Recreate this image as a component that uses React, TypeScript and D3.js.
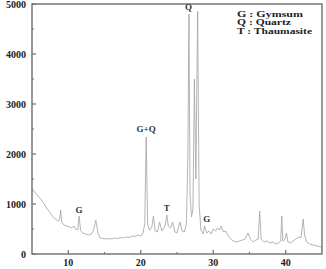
import React from "react";
import * as d3 from "d3";

const twoTheta = [5.0,5.3,5.6,6.0,6.3,6.7,7.0,7.4,7.8,8.2,8.6,8.8,8.95,9.1,9.4,9.8,10.2,10.5,10.8,11.0,11.3,11.5,11.7,12.0,12.4,12.8,13.2,13.5,13.8,14.1,14.4,14.8,15.2,15.6,16.0,16.4,16.8,17.2,17.6,18.0,18.4,18.8,19.2,19.6,20.0,20.3,20.55,20.75,20.95,21.2,21.5,21.75,22.0,22.3,22.6,22.9,23.2,23.4,23.6,23.8,24.1,24.4,24.7,25.0,25.4,25.7,26.0,26.3,26.5,26.65,26.8,27.0,27.2,27.4,27.6,27.85,28.05,28.3,28.6,28.8,29.1,29.4,29.7,30.0,30.3,30.6,30.9,31.1,31.4,31.7,32.0,32.4,32.8,33.2,33.6,34.0,34.4,34.8,35.1,35.5,35.9,36.2,36.4,36.6,37.0,37.4,37.8,38.2,38.6,39.0,39.3,39.45,39.6,39.9,40.1,40.3,40.7,41.0,41.4,41.8,42.1,42.4,42.6,42.9,43.3,43.8,44.3,44.7,45.0];
const intensity = [1320,1250,1200,1130,1080,1000,920,850,760,700,660,680,880,640,580,560,540,520,560,500,480,760,470,420,400,380,400,480,680,420,320,310,300,310,300,320,310,330,320,340,330,360,350,380,360,420,600,2340,600,480,520,760,460,440,640,460,520,600,780,560,520,640,440,420,640,460,440,600,2000,4800,1200,740,900,3500,1500,4850,1000,480,400,560,420,460,400,500,460,520,480,560,440,460,380,300,260,240,260,280,300,420,300,240,280,300,860,300,240,260,220,240,200,220,260,760,260,300,420,240,220,260,300,340,320,700,380,240,200,180,160,150,140];

const xTicks = [10, 20, 30, 40];
const xMinor = [15, 25, 35];
const yTicks = [0, 1000, 2000, 3000, 4000, 5000];
const yMinor = [500, 1500, 2500, 3500, 4500];

const peakLabels = ["G", "G+Q", "Q", "T", "G"];
const peakAt = [11.5, 20.75, 26.6, 23.6, 29.1];
const peakLabelI = [820, 2450, 4890, 860, 640];

const legendLines = ["G : Gymsum", "Q : Quartz", "T : Thaumasite"];
const legendWidths = [66, 54, 75];

export default function App() {
  const W = 326, H = 269;
  const x = d3.scaleLinear().domain([5, 45]).range([32, 322]);
  const y = d3.scaleLinear().domain([0, 5000]).range([254, 4]);
  const pts: [number, number][] = twoTheta.map((t, i) => [t, intensity[i]]);
  const line = d3.line<[number, number]>().x(d => x(d[0])).y(d => y(d[1]));
  const font = "'Liberation Serif', 'Times New Roman', serif";
  const axisColor = "#6e6e6e";
  return (
    <svg width={W} height={H} style={{ position: "absolute", left: 0, top: 0 }} fontFamily={font}>
      <rect x={0} y={0} width={W} height={H} fill="#fff" />
      <path d={line(pts) || ""} fill="none" stroke="#a6a6a6" strokeWidth={0.85} />
      <rect x={x(5)} y={y(5000)} width={x(45) - x(5)} height={y(0) - y(5000)} fill="none" stroke={axisColor} strokeWidth={1.4} />
      {yTicks.map(v => (
        <g key={"y" + v}>
          <line x1={x(5)} x2={x(5) + 4} y1={y(v)} y2={y(v)} stroke={axisColor} strokeWidth={1.2} />
          <text x={26} y={y(v)} dy="0.35em" textAnchor="end" fontSize={10} fontWeight="bold" fill="#222">{v}</text>
        </g>
      ))}
      {yMinor.map(v => (
        <line key={"ym" + v} x1={x(5)} x2={x(5) + 2} y1={y(v)} y2={y(v)} stroke={axisColor} strokeWidth={1} />
      ))}
      {xTicks.map(v => (
        <g key={"x" + v}>
          <line x1={x(v)} x2={x(v)} y1={y(0)} y2={y(0) - 4} stroke={axisColor} strokeWidth={1.2} />
          <text x={x(v)} y={266} textAnchor="middle" fontSize={10} fontWeight="bold" fill="#222">{v}</text>
        </g>
      ))}
      {xMinor.map(v => (
        <line key={"xm" + v} x1={x(v)} x2={x(v)} y1={y(0)} y2={y(0) - 2} stroke={axisColor} strokeWidth={1} />
      ))}
      {peakLabels.map((l, i) => (
        <text key={"p" + i} x={x(peakAt[i])} y={y(peakLabelI[i])} textAnchor="middle" fontSize={9} fontWeight="bold" fill="#333">{l}</text>
      ))}
      {legendLines.map((l, i) => (
        <text key={"l" + i} x={237} y={16.5 + i * 8.5} fontSize={8} fontWeight="bold" fill="#222"
          textLength={legendWidths[i]} lengthAdjust="spacingAndGlyphs">{l}</text>
      ))}
    </svg>
  );
}
